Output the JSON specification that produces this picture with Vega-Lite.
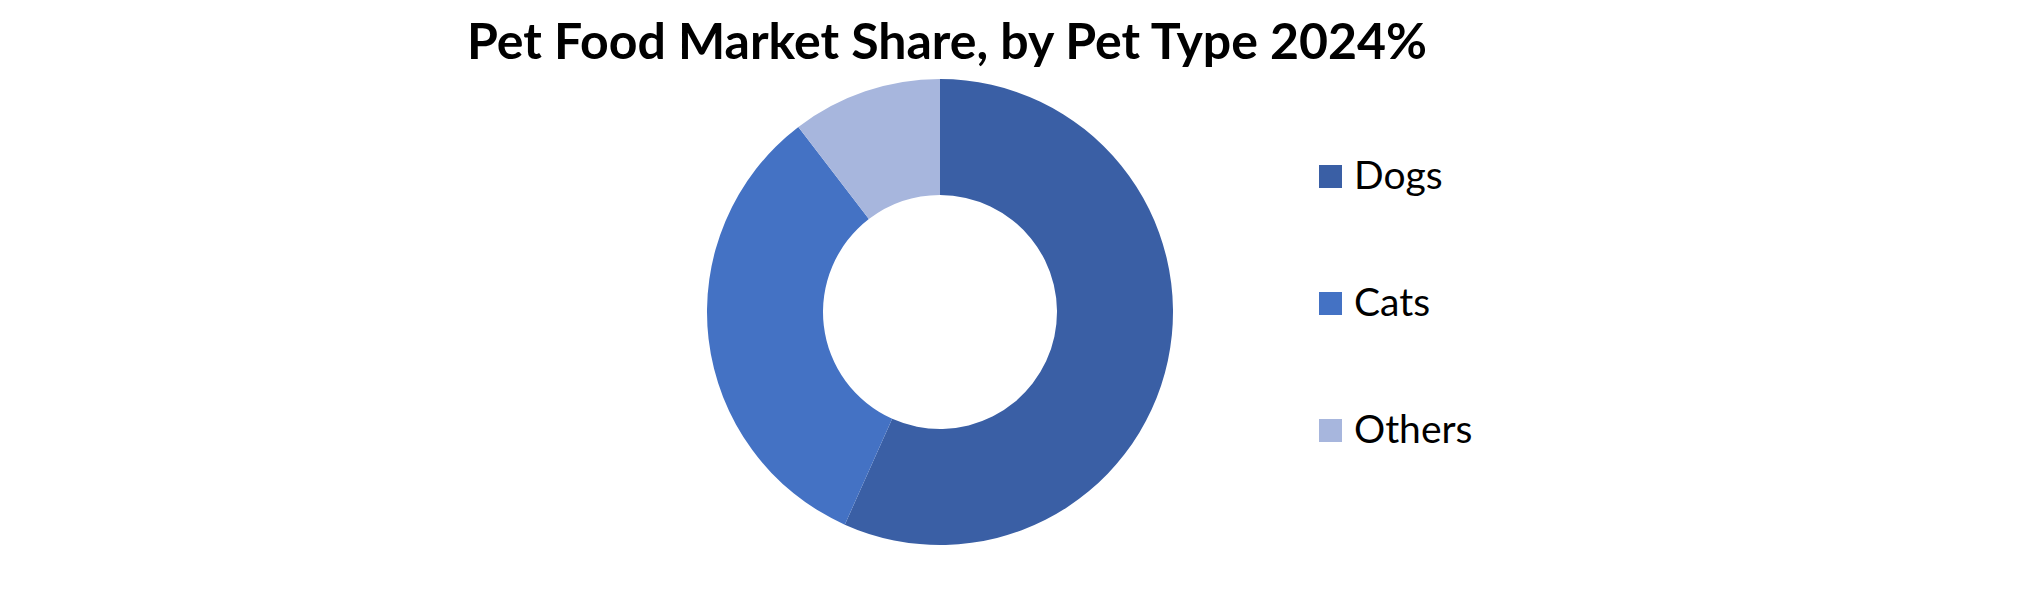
{
  "$schema": "https://vega.github.io/schema/vega-lite/v6.json",
  "autosize": "none",
  "width": 1880,
  "height": 624,
  "padding": 0,
  "background": "white",
  "title": {
    "text": "Pet Food Market Share, by Pet Type 2024%",
    "font": "Lato",
    "fontSize": 50,
    "fontWeight": "bold",
    "color": "black",
    "anchor": "middle",
    "dx": 7,
    "offset": -69
  },
  "data": {
    "values": [
      {"Type": "Dogs", "Share": 56.7},
      {"Type": "Cats", "Share": 32.9},
      {"Type": "Others", "Share": 10.4}
    ]
  },
  "mark": {"type": "arc", "outerRadius": 233, "innerRadius": 117},
  "encoding": {
    "theta": {"field": "Share", "type": "quantitative", "stack": true},
    "order": {"field": "Share", "sort": "descending"},
    "color": {
      "field": "Type",
      "type": "nominal",
      "sort": ["Dogs", "Cats", "Others"],
      "scale": {
        "domain": ["Dogs", "Cats", "Others"],
        "range": ["#3A5FA5", "#4472C4", "#A7B6DD"]
      },
      "legend": {
        "title": null,
        "orient": "none",
        "legendX": 1311,
        "legendY": 157,
        "symbolType": "square",
        "symbolSize": 529,
        "symbolStrokeWidth": 0,
        "labelFont": "Lato",
        "labelFontSize": 39,
        "labelColor": "black",
        "labelOffset": 4,
        "rowPadding": 87
      }
    },
    "tooltip": [{"field": "Type"}, {"field": "Share"}]
  },
  "config": {"view": {"stroke": null}}
}
